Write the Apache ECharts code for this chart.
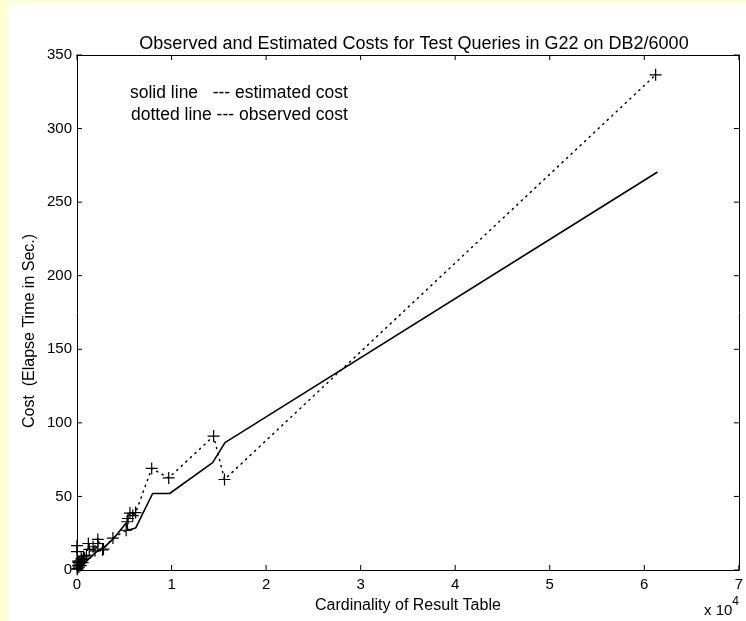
<!DOCTYPE html>
<html>
<head>
<meta charset="utf-8">
<script src="https://cdn.jsdelivr.net/npm/echarts@6/dist/echarts.min.js"></script>
<style>html,body{margin:0;padding:0;background:#fff;}#c{width:746px;height:621px;}</style>
</head>
<body>
<div id="c"></div>
<script>
// Data (x in units of 10^4 rows, y in seconds)
const titleText = 'Observed and Estimated Costs for Test Queries in G22 on DB2/6000';
const xName = 'Cardinality of Result Table';
const yName = 'Cost  (Elapse Time in Sec.)';
const legendLines = ['solid line   --- estimated cost', 'dotted line --- observed cost'];
const xTicks = [0, 1, 2, 3, 4, 5, 6, 7];
const yTicks = [0, 50, 100, 150, 200, 250, 300, 350];

const obsX = [0, 0, 0.002, 0.005, 0.01, 0.012, 0.015, 0.02, 0.025, 0.03, 0.04, 0.045, 0.05, 0.06, 0.07, 0.08, 0.1, 0.12, 0.13, 0.17, 0.19, 0.22, 0.22, 0.27, 0.28, 0.38, 0.52, 0.53, 0.54, 0.56, 0.59, 0.62, 0.79, 0.97, 1.445, 1.56, 6.12];
const obsY = [16.5, 12.5, 0.5, 1, 3, 6, 5, 2, 4, 6, 3, 8, 7, 5, 9, 8, 10, 18, 14, 15.8, 13, 18, 20.8, 13.6, 14.2, 21.7, 27, 32.8, 35, 38.7, 37, 39, 69, 62.6, 91, 61.5, 336.5];

const estX = [0, 0.05, 0.1, 0.2, 0.28, 0.39, 0.52, 0.54, 0.62, 0.8, 0.98, 1.435, 1.565, 6.14];
const estY = [0, 3, 6, 12, 15, 21.5, 32, 27, 28.5, 52, 52, 73, 86.6, 270.5];

const FONT = '"Liberation Sans", Arial, sans-serif';
const chart = echarts.init(document.getElementById('c'), null, {renderer: 'canvas'});
const plus = 'path://M9,0H11V9H20V11H11V20H9V11H0V9H9Z';
const xMax = xTicks[xTicks.length - 1], yMax = yTicks[yTicks.length - 1];
const xStep = xTicks[1] - xTicks[0], yStep = yTicks[1] - yTicks[0];
const TICK = 5;

function axis(pos, max, step, extra) {
  return Object.assign({
    type: 'value', position: pos, min: 0, max: max, interval: step,
    axisLine: {show: true, onZero: false, lineStyle: {color: '#000', width: 1}},
    axisTick: {show: false},
    splitLine: {show: false}, axisLabel: {show: false}
  }, extra || {});
}

function tickLine(x1, y1, x2, y2) {
  return {type: 'line', shape: {x1: x1, y1: y1, x2: x2, y2: y2}, style: {stroke: '#000', lineWidth: 1}};
}

chart.setOption({
  animation: false,
  backgroundColor: '#ffffff',
  graphic: [
    {type: 'rect', silent: true, shape: {x: 0, y: 0, width: 8, height: 621}, style: {fill: '#FFFFCF'}},
    {type: 'rect', silent: true, shape: {x: 0, y: 0, width: 746, height: 3}, style: {fill: '#FFFFCF'}},
    {type: 'text', x: 30, y: 331, rotation: Math.PI / 2, style: {text: yName, font: '16px ' + FONT, fill: '#000', align: 'center', verticalAlign: 'middle'}},
    {type: 'text', x: 130, y: 93, style: {text: legendLines[0], font: '17.5px ' + FONT, fill: '#000', verticalAlign: 'middle'}},
    {type: 'text', x: 131, y: 115, style: {text: legendLines[1], font: '17.5px ' + FONT, fill: '#000', verticalAlign: 'middle'}},
    {type: 'text', left: 704, top: 596, style: {
      text: '{a|x 10}{b|4}', fill: '#000',
      rich: {a: {font: '15px ' + FONT, fill: '#000', padding: [7, 0, 0, 0]}, b: {font: '12px ' + FONT, fill: '#000', verticalAlign: 'top'}}
    }}
  ],
  title: {
    text: titleText, left: 409, top: 30, textAlign: 'center',
    textStyle: {fontFamily: FONT, fontSize: 18, fontWeight: 'normal', color: '#000'}
  },
  grid: {left: 77, top: 55, right: 4, bottom: 51, show: false},
  xAxis: [
    axis('bottom', xMax, xStep, {
      name: xName, nameLocation: 'middle', nameGap: 28,
      nameTextStyle: {fontFamily: FONT, fontSize: 16, color: '#000'},
      axisLabel: {show: true, fontFamily: FONT, fontSize: 15, color: '#000', margin: 7, showMaxLabel: true}}),
    axis('top', xMax, xStep)
  ],
  yAxis: [
    axis('left', yMax, yStep, {
      axisLabel: {show: true, fontFamily: FONT, fontSize: 15, color: '#000', margin: 5}}),
    axis('right', yMax, yStep)
  ],
  series: [
    {
      type: 'line', name: 'estimated', xAxisIndex: 0, yAxisIndex: 0,
      data: estX.map((x, i) => [x, estY[i]]),
      showSymbol: false, symbol: 'none',
      lineStyle: {color: '#000', width: 1.6}, z: 3
    },
    {
      type: 'line', name: 'observed', xAxisIndex: 0, yAxisIndex: 0,
      data: obsX.map((x, i) => [x, obsY[i]]),
      showSymbol: true, symbol: plus, symbolSize: 12,
      itemStyle: {color: '#000'},
      lineStyle: {color: '#000', width: 1.5, type: [1.2, 5], cap: 'round'}, z: 4
    },
    {
      // inward ticks on bottom and top edges, placed through the axis scale
      type: 'custom', name: 'xticks', xAxisIndex: 0, yAxisIndex: 0, silent: true, z: 5, clip: false,
      data: xTicks.map(v => [v, 0]),
      renderItem: function (params, api) {
        const b = api.coord([api.value(0), 0]);
        const t = api.coord([api.value(0), yMax]);
        return {type: 'group', children: [
          tickLine(b[0], b[1], b[0], b[1] - TICK),
          tickLine(t[0], t[1], t[0], t[1] + TICK)
        ]};
      }
    },
    {
      // inward ticks on left and right edges
      type: 'custom', name: 'yticks', xAxisIndex: 0, yAxisIndex: 0, silent: true, z: 5, clip: false,
      data: yTicks.map(v => [0, v]),
      renderItem: function (params, api) {
        const l = api.coord([0, api.value(1)]);
        const r = api.coord([xMax, api.value(1)]);
        return {type: 'group', children: [
          tickLine(l[0], l[1], l[0] + TICK, l[1]),
          tickLine(r[0], r[1], r[0] - TICK, r[1])
        ]};
      }
    }
  ]
});
</script>
</body>
</html>
